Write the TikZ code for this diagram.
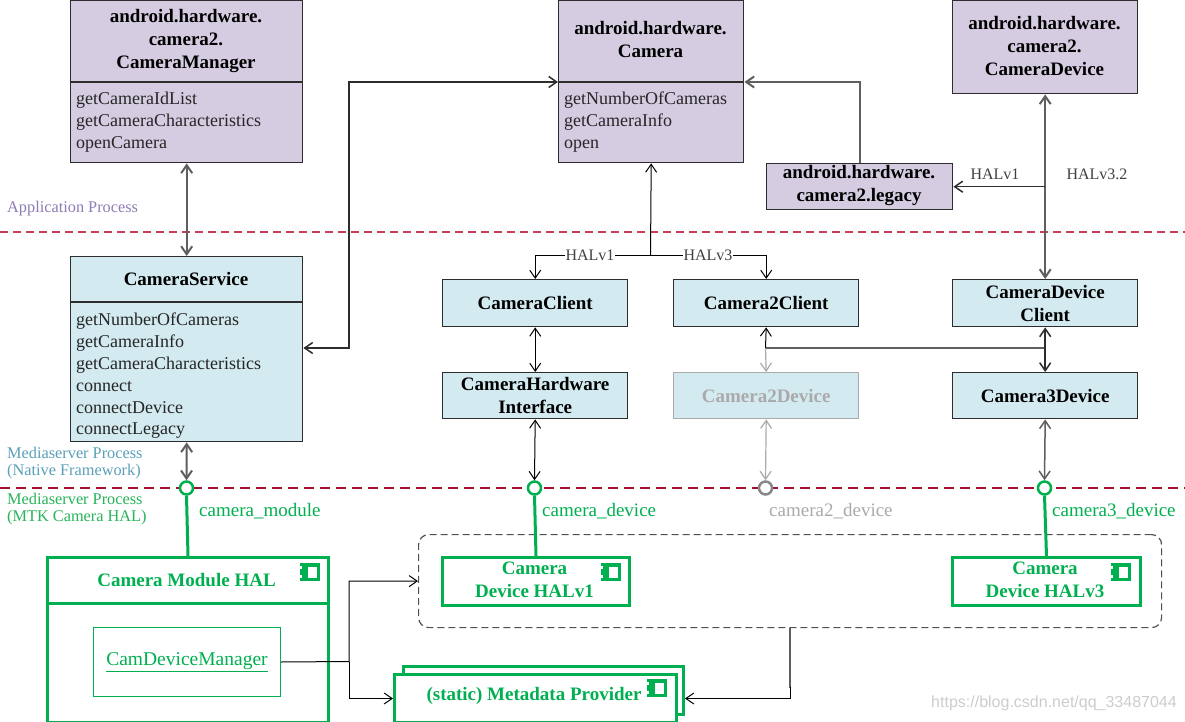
\documentclass[tikz,border=0pt]{standalone}
\usepackage{fontspec}
\setmainfont{Liberation Serif}
\newfontfamily\wmfont{Liberation Sans}
\usetikzlibrary{arrows.meta}
\definecolor{appfill}{RGB}{213,204,225}
\definecolor{nfill}{RGB}{210,234,240}
\definecolor{bord}{RGB}{45,45,45}
\definecolor{halg}{RGB}{0,176,80}
\definecolor{appline}{RGB}{200,60,90}
\definecolor{msline}{RGB}{165,15,45}
\definecolor{applbl}{RGB}{142,124,180}
\definecolor{natlbl}{RGB}{90,160,185}
\definecolor{hallbl}{RGB}{40,180,90}
\definecolor{faded}{RGB}{170,170,170}
\definecolor{conng}{RGB}{95,95,95}
\definecolor{grpline}{RGB}{80,80,80}
\definecolor{wmgray}{RGB}{205,205,205}
\begin{document}
\begin{tikzpicture}[x=1pt,y=-1pt,
  >={Straight Barb[length=8pt,width=11pt]},
  box/.style={draw=bord,line width=1.4pt,inner sep=0pt,anchor=north west},
  ttl/.style={align=center,inner sep=0pt,text=black,font=\fontsize{19}{23}\selectfont\bfseries},
  mth/.style={align=left,inner sep=0pt,anchor=north west,text=black!85,font=\fontsize{18}{21.8}\selectfont},
  lbl/.style={inner sep=1pt,text=black!75,font=\fontsize{16}{18}\selectfont},
  plbl/.style={inner sep=0pt,anchor=west,font=\fontsize{19}{22}\selectfont},
  proc/.style={inner sep=0pt,anchor=west,align=left,font=\fontsize{16.3}{17}\selectfont},
  halbox/.style={draw=halg,line width=3pt,fill=white,inner sep=0pt,anchor=north west},
  halttl/.style={align=center,inner sep=0pt,text=halg,font=\fontsize{19}{23}\selectfont\bfseries},
  port/.style={circle,draw=halg,line width=2.5pt,fill=white,minimum size=13pt,inner sep=0pt},
  stem/.style={draw=halg,line width=3pt},
  cthin/.style={draw=black,line width=1pt},
  cmid/.style={draw=bord,line width=1.5pt},
  cthick/.style={draw=conng,line width=2pt},
  cfade/.style={draw=faded,line width=1.2pt},
  compicon/.pic={
    \fill[halg] (-10,-9) rectangle (10,9);
    \fill[white] (-2,-5.5) rectangle (6.5,5.5);
    \fill[white] (-10,-6) rectangle (-8,-3);
    \fill[white] (-10,3) rectangle (-8,6);
  }]
\path[fill=white] (0,0) rectangle (1185,722);
\useasboundingbox (0,0) rectangle (1185,722);

% process boundaries
\draw[appline,line width=1.2pt,dash pattern=on 8pt off 5pt] (0,232) -- (1185,232);
\draw[msline,line width=2pt,dash pattern=on 10pt off 6pt] (0,488) -- (1185,488);
\node[proc,text=applbl] (lapp) at (7,209) {Application Process};
\node[proc,text=natlbl] (lnat) at (7,463.5) {Mediaserver Process\\(Native Framework)};
\node[proc,text=hallbl] (lhal) at (7,509.5) {Mediaserver Process\\(MTK Camera HAL)};

% application boxes
\node[box,fill=appfill,minimum width=232pt,minimum height=162pt] (cm) at (70,0) {};
\draw[bord,line width=1.2pt] (cm.west |- 0,82) -- (cm.east |- 0,82);
\node[ttl] (cmT) at (186,41) {android.hardware.\\camera2.\\CameraManager};
\node[mth] (cmM) at (76,92) {getCameraIdList\\getCameraCharacteristics\\openCamera};

\node[box,fill=appfill,minimum width=185pt,minimum height=162pt] (cam) at (558,0) {};
\draw[bord,line width=1.2pt] (cam.west |- 0,82) -- (cam.east |- 0,82);
\node[ttl] (camT) at (650.5,40) {android.hardware.\\Camera};
\node[mth] (camM) at (564,92) {getNumberOfCameras\\getCameraInfo\\open};

\node[box,fill=appfill,minimum width=185pt,minimum height=93pt] (cdev) at (952,0) {};
\node[ttl] (cdevT) at (1044.5,46) {android.hardware.\\camera2.\\CameraDevice};

\node[box,fill=appfill,minimum width=186pt,minimum height=46pt] (leg) at (766,163) {};
\node[ttl] (legT) at (859,186) {android.hardware.\\camera2.legacy};

% native framework boxes
\node[box,fill=nfill,minimum width=232pt,minimum height=185pt] (cs) at (70,256) {};
\draw[bord,line width=1.2pt] (cs.west |- 0,302) -- (cs.east |- 0,302);
\node[ttl] (csT) at (186,279) {CameraService};
\node[mth] (csM) at (76,313) {getNumberOfCameras\\getCameraInfo\\getCameraCharacteristics\\connect\\connectDevice\\connectLegacy};

\node[box,fill=nfill,minimum width=185pt,minimum height=47pt] (ccl) at (442,279) {};
\node[ttl] (cclT) at (ccl.center) {CameraClient};
\node[box,fill=nfill,minimum width=185pt,minimum height=47pt] (c2c) at (673,279) {};
\node[ttl] (c2cT) at (c2c.center) {Camera2Client};
\node[box,fill=nfill,minimum width=185pt,minimum height=47pt] (cdc) at (952,279) {};
\node[ttl] (cdcT) at (cdc.center) {CameraDevice\\Client};

\node[box,fill=nfill,minimum width=185pt,minimum height=46pt] (chi) at (442,372) {};
\node[ttl] (chiT) at (chi.center) {CameraHardware\\Interface};
\node[box,fill=nfill,draw=faded,minimum width=185pt,minimum height=46pt] (c2d) at (673,372) {};
\node[ttl,text=faded] (c2dT) at (c2d.center) {Camera2Device};
\node[box,fill=nfill,minimum width=185pt,minimum height=46pt] (c3d) at (952,372) {};
\node[ttl] (c3dT) at (c3d.center) {Camera3Device};

% upper connectors
\draw[cthick,<->] (cm.south) -- (cs.north);
\draw[cmid,<->] (cs.east |- 0,348) -| (349,82) -- (cam.west |- 0,82);
\draw[cthick,->] (leg.north) |- (cam.east |- 0,82);
\draw[cthick,<->] (cdev.south) -- (cdc.north);
\draw[cmid,->] (cdev.south |- leg.east) -- (leg.east);
\node[lbl] (h1) at (995,174) {HALv1};
\node[lbl] (h32) at (1097,174) {HALv3.2};

\coordinate (hsplit) at (650.5,255);
\draw[cthin,->] (hsplit) -- (cam.south);
\draw[cthin,->] (hsplit) -| (ccl.north);
\draw[cthin,->] (hsplit) -| (c2c.north);
\node[lbl,fill=white] (lv1) at (590,255) {HALv1};
\node[lbl,fill=white] (lv3) at (708,255) {HALv3};

\draw[cthin,<->] (ccl.south) -- (chi.north);
\coordinate (j2) at (765.5,348);
\draw[cthin,->] (j2) -- (c2c.south);
\draw[cfade,->] (j2) -- (c2d.north);
\draw[draw=conng,line width=2.5pt] (j2) -- (cdc.south |- j2);
\draw[cmid,<->] (cdc.south) -- (c3d.north);

% ports
\node[port] (pm) at (186.5,488) {};
\node[port] (pd) at (534.5,488) {};
\node[port,draw=faded!80!black] (p2) at (765.5,488) {};
\node[port] (p3) at (1044.5,488) {};
\draw[cthick,<->] (cs.south) -- (pm.north);
\draw[cthin,<->] (chi.south) -- (pd.north);
\draw[cfade,<->] (c2d.south) -- (p2.north);
\draw[draw=conng,line width=1.5pt,<->] (c3d.south) -- (p3.north);
\node[plbl,text=halg] (pmL) at (199,511) {camera\_module};
\node[plbl,text=halg] (pdL) at (542,511) {camera\_device};
\node[plbl,text=faded] (p2L) at (769,511) {camera2\_device};
\node[plbl,text=halg] (p3L) at (1052,511) {camera3\_device};

% HAL group
\node[draw=grpline,line width=1.2pt,dash pattern=on 7pt off 4pt,rounded corners=10pt,minimum width=743pt,minimum height=93pt,inner sep=0pt,anchor=north west] (grp) at (418,534) {};

\node[halbox,minimum width=281pt,minimum height=165pt] (cmh) at (46,556) {};
\draw[halg,line width=3pt] (cmh.west |- 0,603) -- (cmh.east |- 0,603);
\node[halttl] (cmhT) at (186.5,580) {Camera Module HAL};
\pic at (310,572) {compicon};
\node[draw=halg,line width=1pt,minimum width=187pt,minimum height=69pt,inner sep=0pt,anchor=north west,text=halg,font=\fontsize{19.5}{23}\selectfont] (cdm) at (93,627) {\underline{CamDeviceManager}};

\node[halbox,minimum width=187pt,minimum height=48pt] (hv1) at (441,556) {};
\node[halttl] (hv1T) at (534.5,579.5) {Camera\\Device HALv1};
\pic at (611,572) {compicon};
\node[halbox,minimum width=188pt,minimum height=48pt] (hv3) at (951,556) {};
\node[halttl] (hv3T) at (1045,579.5) {Camera\\Device HALv3};
\pic at (1121,572) {compicon};

\node[halbox,minimum width=280pt,minimum height=48pt] (mdb) at (402,665) {};
\node[halbox,minimum width=282pt,minimum height=48pt] (md) at (393,673) {};
\node[halttl] (mdT) at (534,696) {(static) Metadata Provider};
\pic at (657,688) {compicon};

\draw[stem] (pm.south) -- (cmh.north);
\draw[stem] (pd.south) -- (hv1.north);
\draw[stem] (p3.south) -- (hv3.north);

% lower connectors
\coordinate (jn) at (349,661.5);
\draw[cthin,->] (cdm.east) -- (jn) |- (grp.west);
\draw[cthin,->] (jn) |- (md.west);
\draw[cthick] (grp.south) -- ++(0,60);
\draw[cthin] (grp.south) ++(0,59) -- (grp.south |- md.east);
\draw[cthin,->] (grp.south |- md.east) -- (mdb.east |- md.east);

\node[text=wmgray,font=\wmfont\fontsize{16}{18}\selectfont,inner sep=0pt] (wm) at (1054,703) {https://blog.csdn.net/qq\_33487044};
\end{tikzpicture}
\end{document}
